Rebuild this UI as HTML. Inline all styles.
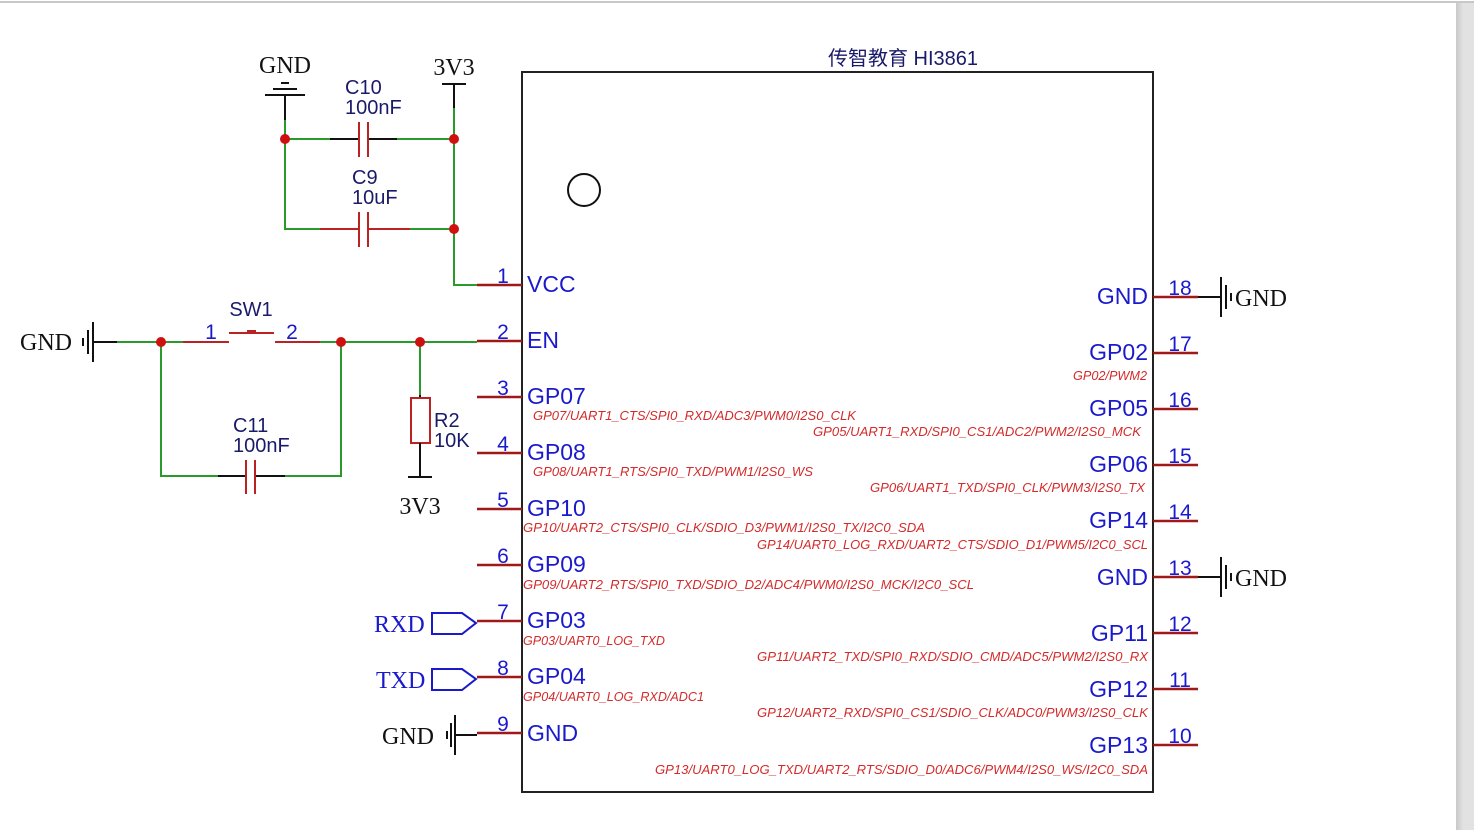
<!DOCTYPE html>
<html><head><meta charset="utf-8"><style>
html,body{margin:0;padding:0;background:#fff;}
svg{display:block;}
.pn{font-family:"Liberation Sans",sans-serif;font-size:21px;fill:#1a1acc;}
.lb{font-family:"Liberation Sans",sans-serif;font-size:23px;fill:#1a1acc;}
.ds{font-family:"Liberation Sans",sans-serif;font-size:12.5px;font-style:italic;fill:#d42a2a;}
.sf{font-family:"Liberation Serif",serif;font-size:24px;fill:#111;}
.cl{font-family:"Liberation Sans",sans-serif;font-size:20px;fill:#1a1a6a;}
</style></head><body>
<svg width="1474" height="830" viewBox="0 0 1474 830" xmlns="http://www.w3.org/2000/svg">
<defs><linearGradient id="g" x1="0" x2="1"><stop offset="0" stop-color="#c8c8c8"/><stop offset="0.4" stop-color="#e2e2e2"/><stop offset="1" stop-color="#e2e2e2"/></linearGradient></defs>
<rect x="0" y="0" width="1474" height="830" fill="#fff"/>
<rect x="0" y="1" width="1474" height="2" fill="#c8c8c8"/>
<rect x="1456" y="3" width="18" height="827" fill="url(#g)"/>

<rect x="522" y="72" width="631" height="720" fill="none" stroke="#222" stroke-width="2"/>
<text x="903" y="65" text-anchor="middle" font-family="'Liberation Sans','Noto Sans CJK SC',sans-serif" font-size="20" fill="#1a1a6a">传智教育 HI3861</text>
<circle cx="584" cy="190" r="16" fill="none" stroke="#111" stroke-width="2"/>

<g stroke-width="2" fill="none">
<line x1="285" y1="95" x2="285" y2="120" stroke="#111"/>
<line x1="265" y1="95" x2="305" y2="95" stroke="#111"/>
<line x1="273" y1="89" x2="297" y2="89" stroke="#111"/>
<line x1="281" y1="83" x2="289" y2="83" stroke="#111"/>
<line x1="442" y1="84" x2="466" y2="84" stroke="#111"/>
<line x1="454" y1="84" x2="454" y2="108" stroke="#111"/>
<polyline points="285,120 285,229 320,229" stroke="#2a9a2a"/>
<polyline points="454,108 454,285 477,285" stroke="#2a9a2a"/>
<line x1="285" y1="139" x2="330" y2="139" stroke="#2a9a2a"/>
<line x1="397" y1="139" x2="454" y2="139" stroke="#2a9a2a"/>
<line x1="330" y1="139" x2="359" y2="139" stroke="#111"/>
<line x1="368" y1="139" x2="397" y2="139" stroke="#111"/>
<line x1="359" y1="122" x2="359" y2="157" stroke="#b22"/>
<line x1="368" y1="122" x2="368" y2="157" stroke="#b22"/>
<line x1="410" y1="229" x2="454" y2="229" stroke="#2a9a2a"/>
<line x1="320" y1="229" x2="359" y2="229" stroke="#b22"/>
<line x1="368" y1="229" x2="410" y2="229" stroke="#b22"/>
<line x1="359" y1="212" x2="359" y2="247" stroke="#b22"/>
<line x1="368" y1="212" x2="368" y2="247" stroke="#b22"/>
</g>
<text x="285" y="73" text-anchor="middle" class="sf">GND</text>
<text x="454" y="75" text-anchor="middle" class="sf">3V3</text>
<text x="345" y="94" class="cl">C10</text><text x="345" y="114" class="cl">100nF</text>
<text x="352" y="184" class="cl">C9</text><text x="352" y="204" class="cl">10uF</text>
<g fill="#d01010"><circle cx="285" cy="139" r="5"/><circle cx="454" cy="139" r="5"/><circle cx="454" cy="229" r="5"/></g>

<g stroke-width="2" fill="none">
<line x1="93" y1="322" x2="93" y2="362" stroke="#111"/>
<line x1="88" y1="330" x2="88" y2="354" stroke="#111"/>
<line x1="83" y1="338" x2="83" y2="346" stroke="#111"/>
<line x1="93" y1="342" x2="117" y2="342" stroke="#111"/>
<line x1="117" y1="342" x2="183" y2="342" stroke="#2a9a2a"/>
<line x1="183" y1="342" x2="229" y2="342" stroke="#b22"/>
<line x1="229" y1="333" x2="274" y2="333" stroke="#b22"/>
<line x1="275" y1="342" x2="320" y2="342" stroke="#b22"/>
<line x1="320" y1="342" x2="477" y2="342" stroke="#2a9a2a"/>
<polyline points="161,342 161,476 218,476" stroke="#2a9a2a"/>
<polyline points="285,476 341,476 341,342" stroke="#2a9a2a"/>
<line x1="218" y1="476" x2="246" y2="476" stroke="#111"/>
<line x1="255" y1="476" x2="285" y2="476" stroke="#111"/>
<line x1="246" y1="460" x2="246" y2="494" stroke="#b22"/>
<line x1="255" y1="460" x2="255" y2="494" stroke="#b22"/>
<line x1="420" y1="342" x2="420" y2="395" stroke="#2a9a2a"/>
<line x1="420" y1="395" x2="420" y2="398" stroke="#111"/>
<rect x="411" y="398" width="19" height="45" stroke="#b22"/>
<line x1="420" y1="443" x2="420" y2="477" stroke="#111"/>
<line x1="408" y1="477" x2="432" y2="477" stroke="#111"/>
</g>
<rect x="247" y="330" width="9" height="3" fill="#b22"/>
<text x="20" y="350" class="sf">GND</text>
<text x="251" y="316" text-anchor="middle" class="cl">SW1</text>
<text x="211" y="339" text-anchor="middle" class="pn">1</text>
<text x="292" y="339" text-anchor="middle" class="pn">2</text>
<text x="233" y="432" class="cl">C11</text><text x="233" y="452" class="cl">100nF</text>
<text x="434" y="427" class="cl">R2</text><text x="434" y="447" class="cl">10K</text>
<text x="420" y="514" text-anchor="middle" class="sf">3V3</text>
<g fill="#d01010"><circle cx="161" cy="342" r="5"/><circle cx="341" cy="342" r="5"/><circle cx="420" cy="342" r="5"/></g>

<g stroke-width="2" fill="none" stroke="#1a1acc">
<polygon points="432,613 462,613 476,623 462,634 432,634"/>
<polygon points="432,669 462,669 476,679 462,690 432,690"/>
</g>
<text x="374" y="632" class="sf" style="fill:#1a1acc">RXD</text>
<text x="376" y="688" class="sf" style="fill:#1a1acc">TXD</text>
<g stroke-width="2" stroke="#111">
<line x1="455" y1="715" x2="455" y2="755"/><line x1="451" y1="723" x2="451" y2="747"/><line x1="447" y1="731" x2="447" y2="739"/>
<line x1="455" y1="735" x2="477" y2="735"/>
</g>
<text x="382" y="744" class="sf">GND</text>

<g stroke="#a01818" stroke-width="2.5">
<line x1="477" y1="285" x2="522" y2="285"/><line x1="477" y1="341" x2="522" y2="341"/>
<line x1="477" y1="397" x2="522" y2="397"/><line x1="477" y1="453" x2="522" y2="453"/>
<line x1="477" y1="509" x2="522" y2="509"/><line x1="477" y1="565" x2="522" y2="565"/>
<line x1="477" y1="621" x2="522" y2="621"/><line x1="477" y1="677" x2="522" y2="677"/>
<line x1="477" y1="733" x2="522" y2="733"/>
</g>
<g class="pn" text-anchor="middle">
<text x="503" y="283">1</text><text x="503" y="339">2</text><text x="503" y="395">3</text>
<text x="503" y="451">4</text><text x="503" y="507">5</text><text x="503" y="563">6</text>
<text x="503" y="619">7</text><text x="503" y="675">8</text><text x="503" y="731">9</text>
</g>
<g class="lb">
<text x="527" y="292">VCC</text><text x="527" y="348">EN</text><text x="527" y="404">GP07</text>
<text x="527" y="460">GP08</text><text x="527" y="516">GP10</text><text x="527" y="572">GP09</text>
<text x="527" y="628">GP03</text><text x="527" y="684">GP04</text><text x="527" y="741">GND</text>
</g>
<g class="ds">
<text x="533" y="420" textLength="323" lengthAdjust="spacingAndGlyphs">GP07/UART1_CTS/SPI0_RXD/ADC3/PWM0/I2S0_CLK</text>
<text x="533" y="476" textLength="280" lengthAdjust="spacingAndGlyphs">GP08/UART1_RTS/SPI0_TXD/PWM1/I2S0_WS</text>
<text x="523" y="532" textLength="402" lengthAdjust="spacingAndGlyphs">GP10/UART2_CTS/SPI0_CLK/SDIO_D3/PWM1/I2S0_TX/I2C0_SDA</text>
<text x="523" y="589" textLength="451" lengthAdjust="spacingAndGlyphs">GP09/UART2_RTS/SPI0_TXD/SDIO_D2/ADC4/PWM0/I2S0_MCK/I2C0_SCL</text>
<text x="523" y="645" textLength="142" lengthAdjust="spacingAndGlyphs">GP03/UART0_LOG_TXD</text>
<text x="523" y="701" textLength="181" lengthAdjust="spacingAndGlyphs">GP04/UART0_LOG_RXD/ADC1</text>
</g>

<g stroke="#a01818" stroke-width="2.5">
<line x1="1153" y1="297" x2="1198" y2="297"/><line x1="1153" y1="353" x2="1198" y2="353"/>
<line x1="1153" y1="409" x2="1198" y2="409"/><line x1="1153" y1="465" x2="1198" y2="465"/>
<line x1="1153" y1="521" x2="1198" y2="521"/><line x1="1153" y1="577" x2="1198" y2="577"/>
<line x1="1153" y1="633" x2="1198" y2="633"/><line x1="1153" y1="689" x2="1198" y2="689"/>
<line x1="1153" y1="745" x2="1198" y2="745"/>
</g>
<g class="pn" text-anchor="middle">
<text x="1180" y="295">18</text><text x="1180" y="351">17</text><text x="1180" y="407">16</text>
<text x="1180" y="463">15</text><text x="1180" y="519">14</text><text x="1180" y="575">13</text>
<text x="1180" y="631">12</text><text x="1180" y="687">11</text><text x="1180" y="743">10</text>
</g>
<g class="lb" text-anchor="end">
<text x="1148" y="304">GND</text><text x="1148" y="360">GP02</text><text x="1148" y="416">GP05</text>
<text x="1148" y="472">GP06</text><text x="1148" y="528">GP14</text><text x="1148" y="585">GND</text>
<text x="1148" y="641">GP11</text><text x="1148" y="697">GP12</text><text x="1148" y="753">GP13</text>
</g>
<g class="ds">
<text x="1073" y="380" textLength="74" lengthAdjust="spacingAndGlyphs">GP02/PWM2</text>
<text x="813" y="436" textLength="328" lengthAdjust="spacingAndGlyphs">GP05/UART1_RXD/SPI0_CS1/ADC2/PWM2/I2S0_MCK</text>
<text x="870" y="492" textLength="275" lengthAdjust="spacingAndGlyphs">GP06/UART1_TXD/SPI0_CLK/PWM3/I2S0_TX</text>
<text x="757" y="549" textLength="391" lengthAdjust="spacingAndGlyphs">GP14/UART0_LOG_RXD/UART2_CTS/SDIO_D1/PWM5/I2C0_SCL</text>
<text x="757" y="661" textLength="391" lengthAdjust="spacingAndGlyphs">GP11/UART2_TXD/SPI0_RXD/SDIO_CMD/ADC5/PWM2/I2S0_RX</text>
<text x="757" y="717" textLength="391" lengthAdjust="spacingAndGlyphs">GP12/UART2_RXD/SPI0_CS1/SDIO_CLK/ADC0/PWM3/I2S0_CLK</text>
<text x="655" y="774" textLength="493" lengthAdjust="spacingAndGlyphs">GP13/UART0_LOG_TXD/UART2_RTS/SDIO_D0/ADC6/PWM4/I2S0_WS/I2C0_SDA</text>
</g>
<g stroke-width="2" stroke="#111">
<line x1="1198" y1="297" x2="1221" y2="297"/>
<line x1="1221" y1="277" x2="1221" y2="317"/><line x1="1226" y1="285" x2="1226" y2="309"/><line x1="1231" y1="293" x2="1231" y2="301"/>
<line x1="1198" y1="577" x2="1221" y2="577"/>
<line x1="1221" y1="557" x2="1221" y2="597"/><line x1="1226" y1="565" x2="1226" y2="589"/><line x1="1231" y1="573" x2="1231" y2="581"/>
</g>
<text x="1235" y="306" class="sf">GND</text>
<text x="1235" y="586" class="sf">GND</text>
</svg>
</body></html>
